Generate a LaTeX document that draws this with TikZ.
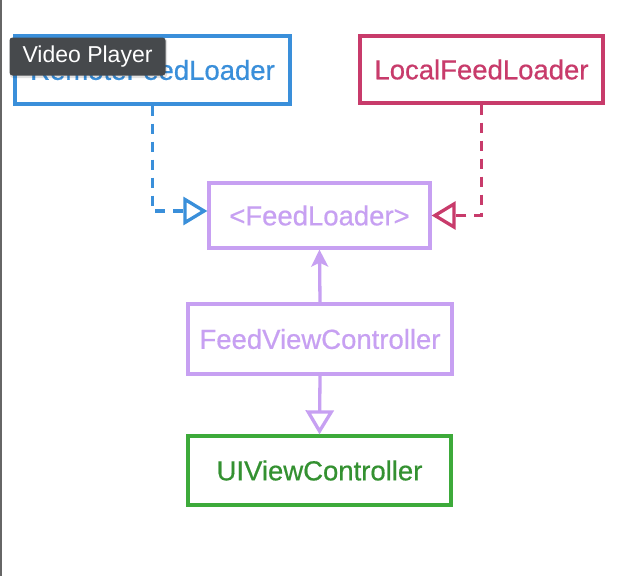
\documentclass[tikz,border=0pt]{standalone}
\usepackage{fontspec}
\setmainfont{Liberation Sans}
\newfontfamily\boxfont[FakeBold=0.6]{Liberation Sans}
\usetikzlibrary{arrows.meta}
\definecolor{cblue}{HTML}{3A8FDA}
\definecolor{cred}{HTML}{C83B6B}
\definecolor{cpurp}{HTML}{C7A0F2}
\definecolor{cgreen}{HTML}{3DAA3A}
\definecolor{ctip}{HTML}{46494C}
\tikzset{
  box/.style={draw, line width=3.3pt, inner sep=0pt, font=\boxfont\fontsize{27.5}{33}\selectfont},
  dep/.style={line width=3.3pt, dash pattern=on 10pt off 8pt},
  opentri/.style={-{Triangle[open,length=24pt,width=28pt,line width=3.3pt]}},
}
\begin{document}
\begin{tikzpicture}[x=1pt,y=-1pt]
\useasboundingbox[fill=white] (0,0) rectangle (640,576);
\draw[color=gray!80!black, line width=2pt] (1,0) -- (1,576);
\node[box, cblue, text=cblue, minimum width=275pt, minimum height=68pt] (remote) at (152.5,70) {RemoteFeedLoader};
\node[box, cred, text=cred, minimum width=243pt, minimum height=67pt] (local) at (481.5,69.5) {LocalFeedLoader};
\node[box, cpurp, text=cpurp, minimum width=221pt, minimum height=65pt] (fl) at (319.5,215.5) {<FeedLoader>};
\node[box, cpurp, text=cpurp, minimum width=264pt, minimum height=70pt] (fvc) at (320,339) {FeedViewController};
\node[box, cgreen, text=cgreen!85!black, minimum width=263pt, minimum height=69pt] (uivc) at (319.5,470.5) {UIViewController};
\coordinate (bturn) at (152.5,211);
\coordinate (rturn) at (481.5,215.5);
\draw[dep, cblue, opentri] (remote.south) -- (bturn) -- (fl.west |- bturn);
\draw[dep, cred, opentri] (local.south) -- (rturn) -- (fl.east |- rturn);
\draw[line width=3.3pt, cpurp, -{Stealth[length=17pt,width=17pt,inset=4pt]}] (fvc.north) -- (fl.south);
\draw[line width=3.3pt, cpurp, opentri] (fvc.south) -- (uivc.north);
\node[fill=black, opacity=0.12, rounded corners=3pt, minimum width=157pt, minimum height=40pt, inner sep=0pt] (shadow) at (88.5,58) {};
\node[fill=ctip, rounded corners=3pt, minimum width=156pt, minimum height=38pt, inner sep=0pt, text=white, font=\fontsize{23}{27}\selectfont] (tip) at (87.5,56.5) {Video Player};
\end{tikzpicture}
\end{document}
